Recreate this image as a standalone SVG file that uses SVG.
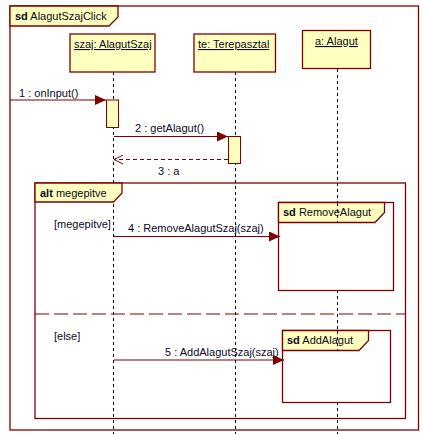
<svg xmlns="http://www.w3.org/2000/svg" width="423" height="434" viewBox="0 0 423 434">
  <style>
    text { font-family: "Liberation Sans", Arial, sans-serif; font-size: 11px; fill: #0a0a1e; }
    .frame { fill: none; stroke: #800000; stroke-width: 1.3; }
    .tab { fill: #ffffc0; stroke: #800000; stroke-width: 1.3; }
    .head { fill: #ffffc0; stroke: #800000; stroke-width: 1.3; }
    .act { fill: #ffffc0; stroke: #800000; stroke-width: 1; }
    .life { stroke: #000; stroke-width: 1; stroke-dasharray: 3,3; fill: none; }
    .msg { stroke: #800000; stroke-width: 1.2; fill: none; }
    .ret { stroke: #800000; stroke-width: 1; stroke-dasharray: 4,3; fill: none; }
    .sep { stroke: #800000; stroke-width: 1.2; stroke-dasharray: 14,5; fill: none; }
    .kw { font-weight: bold; }
    .ul { text-decoration: underline; }
  </style>
  <defs>
    <marker id="filled" markerWidth="12" markerHeight="10" refX="11" refY="5" orient="auto" markerUnits="userSpaceOnUse">
      <path d="M0,0 L11,5 L0,10 Z" fill="#800000"/>
    </marker>
    <marker id="open" markerWidth="12" markerHeight="10" refX="10" refY="5" orient="auto" markerUnits="userSpaceOnUse">
      <path d="M1,0.5 L10,5 L1,9.5" fill="none" stroke="#800000" stroke-width="1"/>
    </marker>
  </defs>

  <!-- outer interaction frame -->
  <g id="sd-frame">
    <rect class="frame" x="10" y="6" width="408.5" height="424"/>
    <path class="tab" d="M10,6 H118 V17 L109,26 H10 Z"/>
    <text x="15" y="20"><tspan class="kw">sd</tspan> AlagutSzajClick</text>
  </g>

  <!-- lifelines -->
  <g id="lifeline-szaj">
    <line class="life" x1="113.5" y1="72" x2="113.5" y2="434"/>
    <rect class="head" x="70" y="34" width="85" height="38"/>
    <text class="ul" x="74" y="48">szaj: AlagutSzaj</text>
  </g>
  <g id="lifeline-te">
    <line class="life" x1="235.5" y1="72" x2="235.5" y2="434"/>
    <rect class="head" x="194" y="34" width="81.5" height="38"/>
    <text class="ul" x="198" y="48">te: Terepasztal</text>
  </g>
  <g id="lifeline-a">
    <line class="life" x1="337.5" y1="69" x2="337.5" y2="222"/>
    <line class="life" x1="337.5" y1="290" x2="337.5" y2="351"/>
    <line class="life" x1="337.5" y1="402" x2="337.5" y2="434"/>
    <rect class="head" x="302.5" y="30.5" width="68" height="38"/>
    <text class="ul" x="315" y="45">a: Alagut</text>
  </g>

  <!-- alt fragment -->
  <g id="alt-fragment">
    <rect class="frame" x="35" y="183" width="370.5" height="235.5"/>
    <path class="tab" d="M35,183 H122 V193 L113.5,202 H35 Z"/>
    <text x="40" y="197"><tspan class="kw">alt</tspan> megepitve</text>
    <line class="sep" x1="35" y1="314" x2="405.5" y2="314"/>
    <text x="54" y="228">[megepitve]</text>
    <text x="54" y="340">[else]</text>
  </g>

  <!-- interaction uses -->
  <g id="ref-RemoveAlagut">
    <rect x="278.5" y="202.5" width="115" height="88" fill="#fff" stroke="#800000" stroke-width="1.3"/>
    <path class="tab" d="M278.5,202.5 H384.5 V212.5 L375,222.5 H278.5 Z"/>
    <line class="life" x1="337.5" y1="203" x2="337.5" y2="222"/>
    <text x="283" y="216"><tspan class="kw">sd</tspan> RemoveAlagut</text>
  </g>
  <g id="ref-AddAlagut">
    <rect x="282.5" y="330.5" width="108" height="72" fill="#fff" stroke="#800000" stroke-width="1.3"/>
    <path class="tab" d="M282.5,330.5 H368.5 V340.5 L359,350.5 H282.5 Z"/>
    <line class="life" x1="337.5" y1="331" x2="337.5" y2="351"/>
    <text x="287" y="344"><tspan class="kw">sd</tspan> AddAlagut</text>
  </g>

  <!-- activations -->
  <g id="activations">
    <rect class="act" x="106.5" y="100" width="12" height="27.5"/>
    <rect class="act" x="228.5" y="136.5" width="12" height="27"/>
  </g>

  <!-- messages -->
  <g id="connectors">
    <line class="msg" x1="10" y1="100" x2="106" y2="100" marker-end="url(#filled)"/>
    <text x="19" y="97">1 : onInput()</text>
    <line class="msg" x1="114" y1="136.5" x2="228" y2="136.5" marker-end="url(#filled)"/>
    <text x="135" y="132">2 : getAlagut()</text>
    <line class="ret" x1="228" y1="159.5" x2="114" y2="159.5" marker-end="url(#open)"/>
    <text x="158" y="175">3 : a</text>
    <line class="msg" x1="114" y1="236.5" x2="280" y2="236.5" marker-end="url(#filled)"/>
    <text x="128" y="232">4 : RemoveAlagutSzaj(szaj)</text>
    <line class="msg" x1="114" y1="360" x2="284" y2="360" marker-end="url(#filled)"/>
    <text x="165" y="356">5 : AddAlagutSzaj(szaj)</text>
  </g>
</svg>
